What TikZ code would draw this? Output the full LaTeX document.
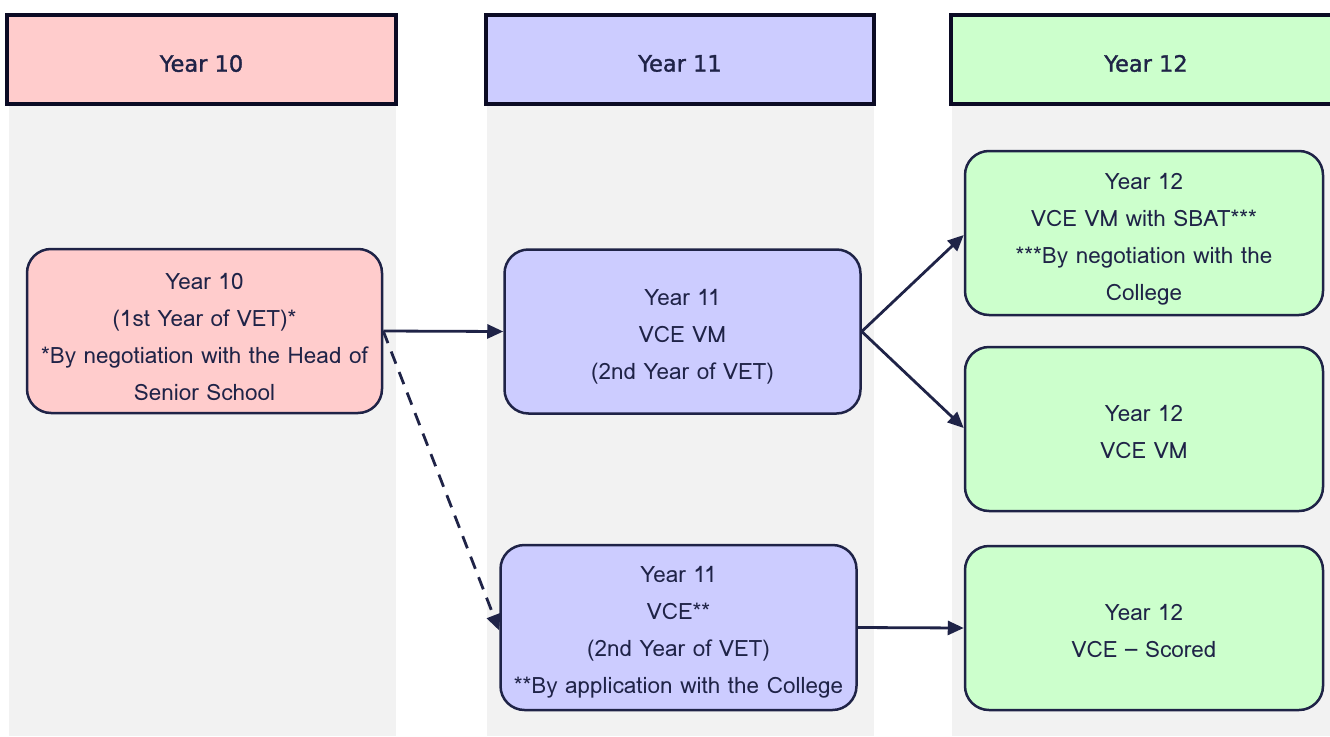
\documentclass[tikz,border=0pt]{standalone}
\usepackage{fontspec}
\setmainfont{Loma}
\newfontfamily\headfont[FakeBold=1.4]{DejaVu Sans}
\usetikzlibrary{arrows.meta}
\definecolor{ink}{HTML}{1F2347}
\definecolor{frame}{HTML}{0B0B24}
\definecolor{lane}{HTML}{F2F2F2}
\definecolor{pinkfill}{HTML}{FFCCCC}
\definecolor{bluefill}{HTML}{CCCCFF}
\definecolor{greenfill}{HTML}{CCFFCC}
\tikzset{
  x=1pt, y=-1pt,
  header/.style={draw=frame, line width=4pt, minimum height=89pt, inner sep=0pt},
  headtext/.style={font=\headfont\fontsize{22.5}{26}\selectfont, text=ink},
  stage/.style={draw=ink, line width=2.5pt, rounded corners=24pt, minimum width=356pt,
    minimum height=164pt, inner sep=0pt},
  stagetext/.style={align=center, inner sep=0pt,
    font=\fontsize{22.5}{37}\selectfont, text=ink},
  link/.style={draw=ink, line width=2.8pt, -{Triangle[length=16pt,width=14pt]}},
}
\begin{document}
\begin{tikzpicture}
\useasboundingbox (0,0) rectangle (1330,736);
% column lanes
\fill[lane] (9,104) rectangle (396,736);
\fill[lane] (487,104) rectangle (874,736);
\fill[lane] (952,104) rectangle (1335,736);
% column headers
\node[header, fill=pinkfill, minimum width=389pt] (h10) at (201.5,59.5) {};
\node[header, fill=bluefill, minimum width=388pt] (h11) at (680,59.5) {};
\node[header, fill=greenfill, minimum width=384pt] (h12) at (1143,59.5) {};
\node[headtext] (h10t) at (201.5,63.5) {Year 10};
\node[headtext] (h11t) at (680,63.5) {Year 11};
\node[headtext] (h12t) at (1146,63.5) {Year 12};
% stages: rounded boxes
\node[stage, fill=pinkfill, minimum width=355pt] (y10) at (204.5,331) {};
\node[stage, fill=bluefill] (y11a) at (682.5,331.5) {};
\node[stage, fill=bluefill, minimum height=165pt] (y11b) at (678.5,627.5) {};
\node[stage, fill=greenfill, minimum width=358pt] (y12a) at (1144,233) {};
\node[stage, fill=greenfill, minimum width=358pt] (y12b) at (1144,429) {};
\node[stage, fill=greenfill, minimum width=358pt] (y12c) at (1144,628) {};
% stage texts, set a little below each box centre
\node[stagetext] (y10t) at ([yshift=-6pt]y10.center)
  {Year 10\\(1st Year of VET)*\\*By negotiation with the Head of\\Senior School};
\node[stagetext] (y11at) at ([yshift=-5pt]y11a.center)
  {Year 11\\VCE VM\\(2nd Year of VET)};
\node[stagetext] (y11bt) at ([yshift=-5pt]y11b.center)
  {Year 11\\VCE**\\(2nd Year of VET)\\**By application with the College};
\node[stagetext] (y12at) at ([yshift=-6pt]y12a.center)
  {Year 12\\VCE VM with SBAT***\\***By negotiation with the\\College};
\node[stagetext] (y12bt) at ([yshift=-3pt]y12b.center)
  {Year 12\\VCE VM};
\node[stagetext] (y12ct) at ([yshift=-3pt]y12c.center)
  {Year 12\\VCE – Scored};
% pathways
\draw[link] (y10.east) -- (y11a.west);
\draw[link, dash pattern=on 13pt off 9pt] (y10.east) -- ([yshift=-3pt]y11b.west);
\draw[link] (y11a.east) -- ([yshift=-2pt]y12a.west);
\draw[link] (y11a.east) -- ([yshift=1pt]y12b.west);
\draw[link] (y11b.east) -- (y12c.west);
\end{tikzpicture}
\end{document}
